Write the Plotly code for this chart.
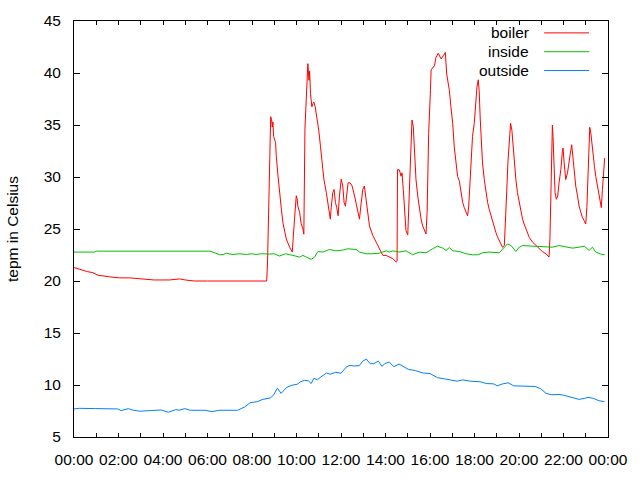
import plotly.graph_objects as go

# ---- data (hours since midnight, degrees Celsius) ----
boiler_h = [0.0, 0.27, 0.6, 0.85, 1.08, 1.6, 2.06, 2.5, 3.0, 3.6, 4.3, 4.75, 5.0, 5.4, 6.0, 7.0, 8.0, 8.66,
            8.70, 8.74, 8.77, 8.84, 8.88, 8.91, 8.94, 8.97, 9.06, 9.09, 9.17, 9.24, 9.32, 9.39, 9.47, 9.54, 9.69, 9.81,
            9.91, 9.99, 10.03, 10.06, 10.14, 10.21, 10.29, 10.33, 10.38, 10.47, 10.51, 10.56, 10.59, 10.63, 10.69,
            10.74, 10.78, 10.84, 10.92, 11.0, 11.08, 11.16, 11.23, 11.34, 11.44, 11.52, 11.56, 11.63, 11.69, 11.75,
            11.81, 11.87, 11.93, 12.01, 12.08, 12.14, 12.2, 12.26, 12.32, 12.41, 12.5, 12.61, 12.68, 12.76, 12.83,
            12.89, 12.98, 13.05, 13.13, 13.2, 13.28, 13.43, 13.58, 13.73, 13.88, 14.03, 14.18, 14.33, 14.48, 14.52,
            14.54, 14.62, 14.7, 14.74, 14.8, 14.86, 14.92, 15.0, 15.07, 15.15, 15.19, 15.25, 15.3, 15.37, 15.45,
            15.52, 15.6, 15.67, 15.75, 15.82, 15.87, 15.94, 16.02, 16.05, 16.2, 16.27, 16.37, 16.5, 16.6, 16.69,
            16.75, 16.87, 16.94, 17.02, 17.09, 17.17, 17.24, 17.32, 17.39, 17.47, 17.54, 17.62, 17.69, 17.74, 17.84,
            17.91, 17.99, 18.07, 18.11, 18.17, 18.21, 18.26, 18.3, 18.36, 18.44, 18.51, 18.59, 18.66, 18.74, 18.81,
            18.89, 18.96, 19.04, 19.11, 19.19, 19.26, 19.34, 19.38, 19.44, 19.5, 19.56, 19.62, 19.68, 19.74, 19.8,
            19.86, 19.93, 20.01, 20.08, 20.16, 20.23, 20.31, 20.38, 20.46, 20.61, 20.76, 20.91, 21.05, 21.21, 21.35,
            21.39, 21.43, 21.48, 21.5, 21.53, 21.58, 21.62, 21.68, 21.74, 21.8, 21.88, 21.95, 21.98, 22.03, 22.1,
            22.18, 22.25, 22.33, 22.37, 22.43, 22.49, 22.55, 22.63, 22.7, 22.78, 22.85, 22.93, 23.0, 23.05, 23.1,
            23.15, 23.18, 23.23, 23.27, 23.33, 23.39, 23.45, 23.52, 23.6, 23.67, 23.7, 23.75, 23.79, 23.82, 23.85]
boiler_v = [21.3, 21.1, 20.9, 20.8, 20.55, 20.4, 20.3, 20.3, 20.2, 20.1, 20.1, 20.2, 20.1, 20.0, 20.0, 20.0, 20.0, 20.0,
            22.0, 25.8, 30.0, 35.8, 35.5, 34.8, 35.3, 33.9, 33.3, 32.0, 30.1, 28.2, 26.9, 25.6, 24.7, 24.05, 23.25, 22.8,
            25.95, 28.2, 27.9, 27.2, 26.6, 25.5, 25.0, 24.5, 34.7, 38.65, 40.9, 39.3, 40.2, 38.0, 36.75,
            37.06, 37.2, 36.75, 35.8, 34.5, 32.9, 31.35, 29.8, 28.5, 26.9, 25.95, 27.06, 28.5, 28.8, 27.54,
            27.06, 26.27, 28.17, 29.8, 29.13, 27.54, 27.2, 28.17, 29.44, 29.44, 29.13, 28.17, 27.54, 26.6, 25.95,
            27.2, 28.8, 29.13, 27.86, 26.6, 25.3, 24.37, 23.73, 23.1, 22.46, 22.46, 22.3, 22.14, 21.83, 21.9,
            30.7, 30.7, 30.07, 30.4, 28.8, 26.9, 24.84, 24.43, 29.13, 33.9, 35.48, 34.84, 32.6, 29.76, 28.17,
            26.9, 25.95, 25.3, 24.84, 24.52, 26.6, 34.2, 38.33, 40.3, 40.7, 41.5, 41.9, 41.35, 41.67, 41.98,
            39.9, 38.33, 36.75, 35.16, 32.9, 31.35, 30.07, 29.6, 28.5, 27.54, 27.06, 26.6, 26.27, 27.2, 32.0,
            33.9, 35.16, 37.4, 38.65, 39.35, 38.33, 35.48, 33.9, 31.35, 29.76, 28.5, 27.54, 26.9, 26.27, 25.63,
            25.16, 24.68, 24.2, 23.9, 23.57, 23.25, 23.41, 25.0, 28.17, 31.35, 33.57, 35.16, 34.5, 32.6, 31.03,
            29.76, 28.5, 27.54, 26.6, 25.95, 25.48, 25.0, 24.68, 24.2, 23.73, 23.41, 23.1, 22.84, 22.62, 22.3,
            24.05, 28.5, 32.9, 35.0, 33.9, 30.4, 28.5, 27.86, 28.17, 29.44, 30.7, 32.46, 32.78, 31.35, 29.76,
            30.4, 31.67, 32.6, 33.1, 31.67, 30.07, 29.13, 28.17, 27.2, 26.6, 26.11, 25.8, 25.48, 27.06, 30.4,
            33.57, 34.78, 34.2, 33.26, 32.0, 31.03, 30.07, 29.13, 28.5, 27.54, 27.06, 28.8, 30.07, 31.67, 31.83]

inside_h = [0.0, 0.94, 1.0, 2.0, 3.0, 4.0, 5.0, 6.1, 6.33, 6.55, 6.7, 6.85, 7.0, 7.15, 7.45, 7.75, 7.97, 8.2,
            8.42, 8.64, 8.79, 9.0, 9.24, 9.5, 9.69, 9.84, 10.14, 10.29, 10.44, 10.66, 10.81, 10.96, 11.18, 11.48,
            11.78, 12.08, 12.3, 12.68, 12.83, 13.13, 13.43, 13.73, 14.03, 14.18, 14.33, 14.63, 14.92, 15.22, 15.52,
            15.82, 16.12, 16.34, 16.57, 16.72, 16.87, 17.02, 17.32, 17.62, 17.91, 18.14, 18.36, 18.66, 19.11, 19.34,
            19.48, 19.64, 19.74, 19.86, 20.01, 20.16, 20.61, 21.21, 21.5, 21.8, 22.1, 22.4, 22.7, 22.93, 23.15,
            23.3, 23.45, 23.67, 23.85]
inside_v = [22.78, 22.78, 22.87, 22.87, 22.87, 22.87, 22.87, 22.87, 22.71, 22.52, 22.55, 22.68, 22.6, 22.55, 22.62,
            22.55, 22.62, 22.55, 22.62, 22.59, 22.59, 22.62, 22.4, 22.62, 22.55, 22.46, 22.3, 22.46, 22.3, 22.08,
            22.3, 22.84, 22.78, 23.03, 22.9, 22.97, 23.1, 23.03, 22.78, 22.62, 22.62, 22.68, 22.9, 22.78, 22.9,
            22.78, 22.9, 22.52, 22.78, 22.71, 23.1, 23.35, 23.16, 22.94, 23.22, 22.9, 22.84, 22.62, 22.52, 22.52,
            22.71, 22.78, 22.71, 23.25, 23.57, 23.41, 23.1, 22.84, 23.25, 23.41, 23.35, 23.25, 23.25, 23.41, 23.25,
            23.16, 23.25, 23.35, 22.94, 23.25, 22.78, 22.59, 22.52]

outside_h = [0.0, 0.24, 0.98, 1.47, 1.96, 2.12, 2.29, 2.45, 2.61, 2.94, 3.43, 3.92, 4.24, 4.57, 4.73, 4.98, 5.22,
             5.88, 6.2, 6.53, 7.35, 7.51, 7.67, 7.92, 8.24, 8.49, 8.82, 8.98, 9.14, 9.31, 9.55, 9.8, 10.04, 10.2,
             10.37, 10.53, 10.66, 10.78, 10.94, 11.1, 11.35, 11.51, 11.76, 12.0, 12.24, 12.41, 12.57, 12.82, 12.98,
             13.14, 13.31, 13.47, 13.68, 13.84, 13.96, 14.17, 14.37, 14.61, 14.86, 15.02, 15.35, 15.67, 16.0, 16.33,
             16.65, 16.98, 17.22, 17.47, 17.8, 18.29, 18.53, 18.86, 19.02, 19.27, 19.51, 19.76, 20.41, 20.73, 20.98,
             21.22, 21.47, 21.8, 22.04, 22.37, 22.69, 22.94, 23.1, 23.35, 23.59, 23.84]
outside_v = [7.7, 7.76, 7.73, 7.7, 7.7, 7.54, 7.67, 7.73, 7.6, 7.48, 7.54, 7.6, 7.38, 7.64, 7.57, 7.73, 7.57,
             7.57, 7.44, 7.57, 7.57, 7.73, 7.89, 8.3, 8.4, 8.62, 8.75, 9.06, 9.7, 9.19, 9.76, 9.98, 10.08, 10.33,
             10.46, 10.4, 10.14, 10.65, 10.49, 10.78, 11.16, 11.03, 11.22, 11.13, 11.73, 11.89, 11.83, 11.86, 12.3,
             12.49, 12.05, 12.05, 12.3, 11.79, 12.05, 12.21, 11.76, 12.02, 11.73, 11.51, 11.38, 11.16, 11.1, 10.71,
             10.59, 10.49, 10.37, 10.49, 10.37, 10.3, 10.14, 10.11, 9.92, 10.11, 10.21, 9.92, 9.89, 9.86, 9.63,
             9.19, 9.06, 9.1, 9.0, 8.84, 8.62, 8.71, 8.81, 8.71, 8.49, 8.4]

series_names = ["boiler", "inside", "outside"]
series_colors = ["#ff0000", "#00c000", "#0080ff"]

x_tick_vals = list(range(0, 25))
x_tick_text = [("%02d:00" % (h % 24)) if h % 2 == 0 else "" for h in x_tick_vals]
y_tick_vals = [5, 10, 15, 20, 25, 30, 35, 40, 45]

FONT = "Liberation Sans, Arial, sans-serif"
FS = 15.5

fig = go.Figure()
for name, hx, vy, col in zip(series_names,
                             [boiler_h, inside_h, outside_h],
                             [boiler_v, inside_v, outside_v],
                             series_colors):
    fig.add_trace(go.Scatter(x=hx, y=vy, mode="lines", name=name,
                             line=dict(color=col, width=1), showlegend=False))

axis_common = dict(showline=True, linecolor="black", linewidth=1, mirror="allticks",
                   ticks="inside", tickcolor="black", showgrid=False, zeroline=False,
                   tickfont=dict(family=FONT, size=FS, color="black"))

ML, MR, MT, MB = 74, 31, 21, 39
PW, PH = 640 - ML - MR, 480 - MT - MB

fig.update_layout(
    width=640, height=480,
    margin=dict(l=ML, r=MR, t=MT, b=MB),
    paper_bgcolor="white", plot_bgcolor="white",
    xaxis=dict(range=[0, 24], tickmode="array", tickvals=x_tick_vals, ticktext=x_tick_text,
               ticklen=4, ticklabelstandoff=8, **axis_common),
    yaxis=dict(range=[5, 45], tickmode="array", tickvals=y_tick_vals,
               ticklen=6, ticklabelstandoff=9,
               title=dict(text="tepm in Celsius", font=dict(family=FONT, size=FS, color="black"), standoff=21),
               **axis_common),
    font=dict(family=FONT, size=FS, color="black"),
)

# gnuplot-style key: text right-aligned, sample line on the right
key_y = [33, 52, 71]
for name, col, ky in zip(series_names, series_colors, key_y):
    yp = (480 - MB - ky) / PH
    fig.add_annotation(xref="paper", yref="paper", x=(532 - ML) / PW, y=yp,
                       text=name, showarrow=False, xanchor="right", yanchor="middle",
                       font=dict(family=FONT, size=FS, color="black"))
    fig.add_shape(type="line", xref="paper", yref="paper",
                  x0=(545 - ML) / PW, x1=(590 - ML) / PW, y0=yp, y1=yp,
                  line=dict(color=col, width=1))

fig.write_html("out.html")
